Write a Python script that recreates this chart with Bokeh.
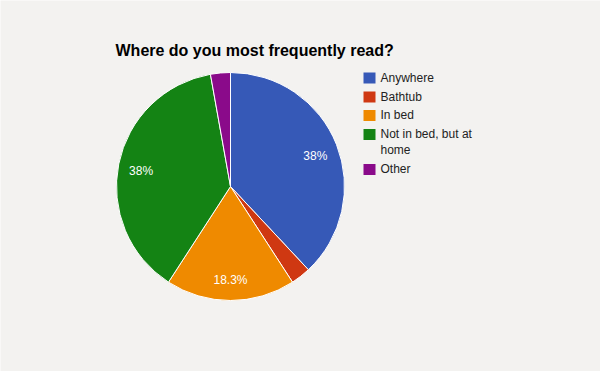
import numpy as np
from bokeh.plotting import figure
from bokeh.models import Range1d, ColumnDataSource
from bokeh.core.properties import value
from bokeh.embed import file_html
from bokeh.resources import INLINE

title = "Where do you most frequently read?"
categories = ["Anywhere", "Bathtub", "In bed", "Not in bed, but at\nhome", "Other"]
counts = [27, 2, 13, 27, 2]
colors = ["#3659b7", "#cf3812", "#ef8a00", "#148314", "#8a0a8a"]

W, H = 600, 371
BG = "#f3f2f0"
FONT = "Liberation Sans"

p = figure(width=W, height=H, output_backend="svg", toolbar_location=None,
           x_range=Range1d(0, W), y_range=Range1d(0, H), min_border=0)
p.axis.visible = False
p.grid.visible = False
p.outline_line_color = None
p.background_fill_color = BG
p.border_fill_color = BG

cx, cy, r = 230.0, H - 186.0, 114.0
vals = np.array(counts, dtype=float)
frac = vals / vals.sum()
cum = np.cumsum(frac)
start = np.pi / 2 - (cum - frac) * 2 * np.pi
end = np.pi / 2 - cum * 2 * np.pi

src = ColumnDataSource(dict(start=start, end=end, color=colors))
p.wedge(x=cx, y=cy, radius=r, start_angle="start", end_angle="end",
        direction="clock", fill_color="color", line_color="white",
        line_width=1, source=src)

# percentage labels
mid = (start + end) / 2
lr = 0.8 * r
labx, laby, labt = [], [], []
for f, m in zip(frac, mid):
    if f < 0.05:
        continue
    pct = round(f * 100, 1)
    s = ("%.1f" % pct).rstrip("0").rstrip(".") + "%"
    labx.append(cx + lr * np.cos(m))
    laby.append(cy + lr * np.sin(m) - 2.5)
    labt.append(s)
p.text(x=labx, y=laby, text=labt, text_color="white", text_font=value(FONT),
       text_font_size="12px", text_align="center", text_baseline="middle")

# title
p.text(x=[115], y=[H - 49.5], text=[title], text_font=value(FONT),
       text_font_size="16px", text_font_style="bold", text_color="#000000",
       text_baseline="alphabetic", text_align="left")

# legend
ly = [77.5, 96.5, 115.0, 134.0, 169.0]
sq_x = 369.0
p.rect(x=[sq_x] * len(categories), y=[H - v for v in ly], width=12, height=11,
       fill_color=colors, line_color=None)
p.text(x=[380] * len(categories), y=[H - v + 7.5 for v in ly], text=categories,
       text_font=value(FONT), text_font_size="12px", text_color="#222222",
       text_baseline="top", text_align="left", text_line_height=1.15)

open("out.html", "w").write(file_html(p, INLINE))
